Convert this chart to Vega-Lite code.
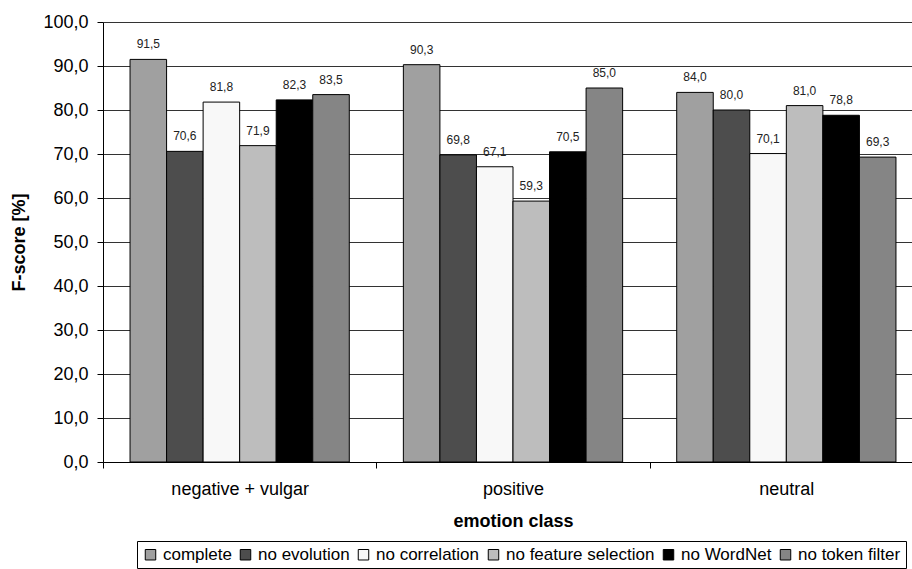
{
  "$schema": "https://vega.github.io/schema/vega-lite/v6.json",
  "width": 809,
  "height": 440,
  "autosize": {"type": "none"},
  "padding": {"left": 103, "top": 22, "right": 0, "bottom": 107},
  "background": "white",
  "config": {
    "locale": {"number": {"decimal": ",", "thousands": ".", "grouping": [3], "currency": ["", " €"]}},
    "view": {"stroke": null},
    "font": "Liberation Sans",
    "axis": {"labelColor": "black", "titleColor": "black", "domainColor": "black", "tickColor": "black", "labelFont": "Liberation Sans", "titleFont": "Liberation Sans"}
  },
  "data": {
    "values": [
      {"class": "negative + vulgar", "variant": "complete", "score": 91.5},
      {"class": "negative + vulgar", "variant": "no evolution", "score": 70.6},
      {"class": "negative + vulgar", "variant": "no correlation", "score": 81.8},
      {"class": "negative + vulgar", "variant": "no feature selection", "score": 71.9},
      {"class": "negative + vulgar", "variant": "no WordNet", "score": 82.3},
      {"class": "negative + vulgar", "variant": "no token filter", "score": 83.5},
      {"class": "positive", "variant": "complete", "score": 90.3},
      {"class": "positive", "variant": "no evolution", "score": 69.8},
      {"class": "positive", "variant": "no correlation", "score": 67.1},
      {"class": "positive", "variant": "no feature selection", "score": 59.3},
      {"class": "positive", "variant": "no WordNet", "score": 70.5},
      {"class": "positive", "variant": "no token filter", "score": 85.0},
      {"class": "neutral", "variant": "complete", "score": 84.0},
      {"class": "neutral", "variant": "no evolution", "score": 80.0},
      {"class": "neutral", "variant": "no correlation", "score": 70.1},
      {"class": "neutral", "variant": "no feature selection", "score": 81.0},
      {"class": "neutral", "variant": "no WordNet", "score": 78.8},
      {"class": "neutral", "variant": "no token filter", "score": 69.3}
    ]
  },
  "encoding": {
    "x": {
      "field": "class", "type": "nominal",
      "sort": ["negative + vulgar", "positive", "neutral"],
      "scale": {"range": [0, 820], "paddingInner": 0, "paddingOuter": 0},
      "axis": {"tickBand": "extent", "labelAngle": 0, "labelFontSize": 18, "labelPadding": 12, "tickSize": 6, "grid": false, "title": "emotion class", "titleFontSize": 18, "titleFontWeight": "bold", "titlePadding": 14}
    },
    "xOffset": {
      "field": "variant", "type": "nominal",
      "sort": ["complete", "no evolution", "no correlation", "no feature selection", "no WordNet", "no token filter"],
      "scale": {"paddingOuter": 0.74, "paddingInner": 0}
    },
    "y": {
      "field": "score", "type": "quantitative",
      "scale": {"domain": [0, 100], "nice": false},
      "axis": {"values": [0, 10, 20, 30, 40, 50, 60, 70, 80, 90, 100], "format": ".1f", "labelFontSize": 18, "labelPadding": 9, "tickSize": 6, "grid": true, "gridColor": "#333333", "gridOpacity": 1, "title": "F-score [%]", "titleFontSize": 18, "titleFontWeight": "bold", "titlePadding": 14}
    }
  },
  "layer": [
    {
      "mark": {"type": "bar", "stroke": "black", "strokeWidth": 1, "opacity": 1},
      "encoding": {
        "color": {
          "field": "variant", "type": "nominal",
          "sort": ["complete", "no evolution", "no correlation", "no feature selection", "no WordNet", "no token filter"],
          "scale": {"domain": ["complete", "no evolution", "no correlation", "no feature selection", "no WordNet", "no token filter"], "range": ["#a0a0a0", "#4d4d4d", "#f8f8f8", "#bdbdbd", "#000000", "#858585"]},
          "legend": {"orient": "none", "legendX": 34, "legendY": 519, "direction": "horizontal", "title": null, "symbolType": "square", "symbolSize": 110, "symbolStrokeColor": "black", "symbolStrokeWidth": 1, "symbolOpacity": 1, "labelFontSize": 17, "labelOffset": 4, "columnPadding": 5, "padding": 5, "strokeColor": "black", "labelColor": "black", "labelFont": "Liberation Sans"}
        }
      }
    },
    {
      "mark": {"type": "text", "dy": -11, "baseline": "alphabetic", "fontSize": 12, "color": "#222222", "font": "Liberation Sans"},
      "encoding": {"text": {"field": "score", "type": "quantitative", "format": ".1f"}}
    }
  ]
}
